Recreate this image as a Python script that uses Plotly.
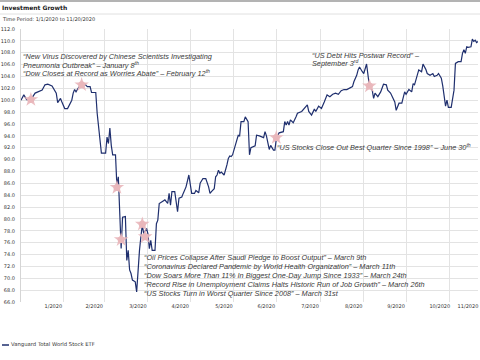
import plotly.graph_objects as go

series_name = "Vanguard Total World Stock ETF"
title_text = "Investment Growth"
subtitle_text = "Time Period: 1/1/2020 to 11/20/2020"

dates = [
    "2020-01-01", "2020-01-03", "2020-01-05", "2020-01-08", "2020-01-11", "2020-01-13", "2020-01-16",
    "2020-01-18", "2020-01-20", "2020-01-23", "2020-01-24", "2020-01-26", "2020-01-27", "2020-01-29",
    "2020-01-30", "2020-02-01", "2020-02-03", "2020-02-06", "2020-02-07", "2020-02-08", "2020-02-09",
    "2020-02-11", "2020-02-13", "2020-02-15", "2020-02-17", "2020-02-19", "2020-02-20", "2020-02-23",
    "2020-02-24", "2020-02-25", "2020-02-26", "2020-02-27", "2020-03-01", "2020-03-02", "2020-03-03",
    "2020-03-04", "2020-03-05", "2020-03-06", "2020-03-08", "2020-03-09", "2020-03-10", "2020-03-11",
    "2020-03-12", "2020-03-13", "2020-03-15", "2020-03-16", "2020-03-17", "2020-03-18", "2020-03-19",
    "2020-03-20", "2020-03-22", "2020-03-23", "2020-03-24", "2020-03-25", "2020-03-26", "2020-03-27",
    "2020-03-28", "2020-03-30", "2020-03-31",
    "2020-04-01", "2020-04-02", "2020-04-03", "2020-04-05", "2020-04-06", "2020-04-07", "2020-04-08",
    "2020-04-10", "2020-04-12", "2020-04-14", "2020-04-15", "2020-04-16", "2020-04-17", "2020-04-19",
    "2020-04-20", "2020-04-21", "2020-04-22", "2020-04-24", "2020-04-25", "2020-04-27", "2020-04-29",
    "2020-04-30", "2020-05-01", "2020-05-03", "2020-05-04", "2020-05-06", "2020-05-07", "2020-05-09",
    "2020-05-11", "2020-05-13", "2020-05-14", "2020-05-15", "2020-05-17", "2020-05-18", "2020-05-19",
    "2020-05-20", "2020-05-21", "2020-05-22", "2020-05-24", "2020-05-26", "2020-05-27", "2020-05-28",
    "2020-05-29", "2020-05-30", "2020-06-01", "2020-06-03", "2020-06-04", "2020-06-05", "2020-06-07",
    "2020-06-08", "2020-06-10", "2020-06-11", "2020-06-12", "2020-06-15", "2020-06-16", "2020-06-18",
    "2020-06-21", "2020-06-22", "2020-06-23", "2020-06-25", "2020-06-26", "2020-06-28", "2020-06-29",
    "2020-06-30", "2020-07-02", "2020-07-05", "2020-07-06", "2020-07-07", "2020-07-08", "2020-07-09",
    "2020-07-10", "2020-07-12", "2020-07-14", "2020-07-15", "2020-07-18", "2020-07-20", "2020-07-22",
    "2020-07-23", "2020-07-25", "2020-07-27", "2020-07-28", "2020-07-30", "2020-08-01", "2020-08-03",
    "2020-08-05", "2020-08-07", "2020-08-09", "2020-08-11", "2020-08-13", "2020-08-15", "2020-08-17",
    "2020-08-19", "2020-08-21", "2020-08-23", "2020-08-24", "2020-08-26", "2020-08-27", "2020-08-28",
    "2020-08-30", "2020-08-31", "2020-09-02", "2020-09-03", "2020-09-04", "2020-09-06", "2020-09-07",
    "2020-09-08", "2020-09-10", "2020-09-12", "2020-09-14", "2020-09-16", "2020-09-17", "2020-09-19",
    "2020-09-21", "2020-09-22", "2020-09-23", "2020-09-24", "2020-09-25", "2020-09-27", "2020-09-28",
    "2020-09-29", "2020-09-30", "2020-10-02", "2020-10-04", "2020-10-05", "2020-10-06", "2020-10-08",
    "2020-10-09", "2020-10-11", "2020-10-12", "2020-10-14", "2020-10-15", "2020-10-17", "2020-10-19",
    "2020-10-20", "2020-10-22", "2020-10-23", "2020-10-25", "2020-10-26", "2020-10-27", "2020-10-28",
    "2020-10-29", "2020-10-30", "2020-11-01", "2020-11-02", "2020-11-03", "2020-11-04", "2020-11-06",
    "2020-11-08", "2020-11-09", "2020-11-10", "2020-11-11", "2020-11-12", "2020-11-13", "2020-11-15",
    "2020-11-16", "2020-11-17", "2020-11-18", "2020-11-19", "2020-11-20",
]

values = [
    100.0, 100.9, 100.1, 100.1, 101.2, 101.4, 101.7,
    102.6, 102.7, 102.4, 102.0, 101.2, 99.6, 100.3,
    99.7, 98.6, 98.6, 100.0, 101.2, 101.8, 101.4,
    102.2, 102.6, 102.8, 102.3, 102.3, 101.3, 101.3,
    97.8, 95.5, 92.2, 91.1, 91.1, 93.8, 92.7,
    95.3, 92.4, 90.8, 90.8, 85.5, 87.1, 81.5,
    75.0, 80.3, 80.4, 73.0, 74.7, 71.4, 70.8,
    69.7, 69.4, 67.7, 71.5, 74.7, 77.0, 79.0,
    77.5, 78.4, 77.5,
    75.0, 76.4, 74.7, 74.7, 79.2, 79.8, 82.6,
    82.9, 83.2, 82.6, 84.3, 82.3, 84.6, 84.6,
    82.6, 81.2, 83.5, 83.7, 84.3, 85.4, 87.4,
    85.5, 84.3, 84.3, 84.8, 84.4, 86.0, 86.8,
    86.8, 85.4, 84.3, 84.6, 85.1, 87.1, 87.4,
    88.2, 87.7, 87.9, 87.4, 89.1, 90.2, 90.6,
    90.5, 90.8, 92.4, 94.1, 94.0, 96.4, 96.4,
    97.2, 96.4, 90.8, 92.0, 92.3, 94.1, 94.0,
    93.7, 94.7, 94.0, 91.7, 92.4, 91.6, 91.6,
    93.5, 94.5, 94.7, 96.4, 95.8, 96.4, 95.8,
    96.7, 96.2, 97.2, 97.8, 98.1, 98.6, 99.2,
    98.1, 97.5, 98.5, 98.1, 99.0, 98.6, 99.7,
    100.9, 100.6, 101.0, 101.2, 101.0, 101.6, 101.8,
    101.8, 102.0, 102.3, 103.1, 104.2, 105.1, 105.6,
    104.8, 104.5, 106.1, 104.0, 102.4, 101.7, 100.3,
    101.2, 100.6, 101.4, 102.7, 102.6, 101.7, 101.2,
    100.0, 99.7, 98.3, 98.9, 99.5, 99.5, 100.3,
    101.4, 101.0, 101.8, 101.4, 102.8, 102.6, 104.2,
    105.1, 104.8, 106.1, 105.2, 104.5, 104.2, 104.5,
    104.0, 104.2, 104.5, 103.7, 102.4, 100.8, 99.0,
    100.0, 98.8, 98.8, 100.2, 101.7, 106.2, 106.5,
    106.5, 107.9, 108.5, 107.9, 109.0, 108.9, 109.0,
    110.3, 109.9, 110.1, 109.7, 109.9,
]

event_dates = ["2020-01-08", "2020-02-13", "2020-03-09", "2020-03-12", "2020-03-27", "2020-03-29",
               "2020-06-30", "2020-09-04"]
event_values = [100.1, 102.6, 85.3, 76.5, 79.1, 77.0, 93.7, 102.4]

tick_dates = ["2020-01-31", "2020-02-29", "2020-03-31", "2020-04-30", "2020-05-31", "2020-06-30",
              "2020-07-31", "2020-08-31", "2020-09-30", "2020-10-31", "2020-11-20"]
tick_labels = ["1/2020", "2/2020", "3/2020", "4/2020", "5/2020", "6/2020",
               "7/2020", "8/2020", "9/2020", "10/2020", "11/2020"]

headlines_1 = [
    "“New Virus Discovered by Chinese Scientists Investigating",
    "Pneumonia Outbreak” – January 8<sup>th</sup>",
    "“Dow Closes at Record as Worries Abate” – February 12<sup>th</sup>",
]
headlines_2 = [
    "“US Debt Hits Postwar Record” –",
    "September 3<sup>rd</sup>",
]
headlines_3 = ["“US Stocks Close Out Best Quarter Since 1998” – June 30<sup>th</sup>"]
headlines_4 = [
    "“Oil Prices Collapse After Saudi Pledge to Boost Output” – March 9th",
    "“Coronavirus Declared Pandemic by World Health Organization” – March 11th",
    "“Dow Soars More Than 11% In Biggest One-Day Jump Since 1933” – March 24th",
    "“Record Rise in Unemployment Claims Halts Historic Run of Job Growth” – March 26th",
    "“US Stocks Turn in Worst Quarter Since 2008” – March 31st",
]

W, H = 480, 360
ML, MR, MT, MB = 21, 2, 29, 58
PW, PH = W - ML - MR, H - MT - MB


def px(x):
    return (x - ML) / PW


def py(y):
    return (H - MB - y) / PH


NAVY = "#1f2f6e"
PINK = "#e9b7bb"
TXT = "#3a3a3a"
SANS = "DejaVu Sans, Verdana"

fig = go.Figure()
fig.add_trace(go.Scatter(x=dates, y=values, mode="lines", name=series_name,
                         line=dict(color=NAVY, width=1.2), showlegend=False, hoverinfo="skip"))
fig.add_trace(go.Scatter(x=event_dates, y=event_values, mode="markers", showlegend=False,
                         marker=dict(symbol="star", size=11, color=PINK, opacity=0.9, line=dict(width=0)),
                         hoverinfo="skip"))
fig.add_trace(go.Scatter(x=event_dates, y=event_values, mode="markers", showlegend=False,
                         marker=dict(symbol="circle", size=7, color=PINK, line=dict(width=0)),
                         hoverinfo="skip"))

ann = []


def add_lines(lines, x0, ys, size=7.3):
    for t, yy in zip(lines, ys):
        ann.append(dict(x=px(x0), y=py(yy), xref="paper", yref="paper", text="<i>" + t + "</i>",
                        showarrow=False, xanchor="left", yanchor="middle", borderpad=0,
                        font=dict(family="Liberation Sans, Arial", size=size, color=TXT)))


add_lines(headlines_1, 21.5, [56, 64.5, 73])
add_lines(headlines_2, 311, [55, 63])
add_lines(headlines_3, 276, [147.3])
add_lines(headlines_4, 143, [257.3, 266.2, 275.2, 284.2, 293.0])

ann.append(dict(x=px(1), y=py(7), xref="paper", yref="paper", text="<b>" + title_text + "</b>",
                showarrow=False, xanchor="left", yanchor="middle", borderpad=0,
                font=dict(family=SANS, size=6, color="#222222")))
ann.append(dict(x=px(1), y=py(19), xref="paper", yref="paper", text=subtitle_text,
                showarrow=False, xanchor="left", yanchor="middle", borderpad=0,
                font=dict(family=SANS, size=5, color="#333333")))
ann.append(dict(x=px(9.5), y=py(345), xref="paper", yref="paper", text=series_name,
                showarrow=False, xanchor="left", yanchor="middle", borderpad=0,
                font=dict(family=SANS, size=5.3, color="#333333")))

shapes = [
    dict(type="line", xref="paper", yref="paper", x0=px(0), x1=px(W), y0=py(1), y1=py(1),
         line=dict(color="#9a9a9a", width=1.5)),
    dict(type="line", xref="paper", yref="paper", x0=px(0), x1=px(W), y0=py(14), y1=py(14),
         line=dict(color="#e0e0e0", width=1)),
    dict(type="line", xref="paper", yref="paper", x0=px(2), x1=px(9), y0=py(345), y1=py(345),
         line=dict(color=NAVY, width=1.5)),
]

fig.update_layout(
    width=W, height=H, autosize=False,
    margin=dict(l=ML, r=MR, t=MT, b=MB, pad=0),
    paper_bgcolor="white", plot_bgcolor="white",
    annotations=ann, shapes=shapes,
    font=dict(family=SANS, size=5, color="#333333"),
)
fig.update_xaxes(type="date", range=["2020-01-01", "2020-11-20"], tickvals=tick_dates, ticktext=tick_labels,
                 ticklabelshift=-10, automargin=False, showgrid=True, gridcolor="#e3e3e3", gridwidth=1,
                 zeroline=False, showline=False, ticks="", tickfont=dict(family=SANS, size=5, color="#333333"))
fig.update_yaxes(range=[66, 112], dtick=2, tick0=66, tickformat=".1f", automargin=False, showgrid=True,
                 gridcolor="#e3e3e3", gridwidth=1, zeroline=False, showline=True, linecolor="#d5d5d5",
                 linewidth=1, ticks="", ticklabelstandoff=4, tickfont=dict(family=SANS, size=5, color="#333333"))

fig.write_html("out.html", config={"displayModeBar": False},
               post_script="document.body.style.margin='0';document.body.style.padding='0';")
